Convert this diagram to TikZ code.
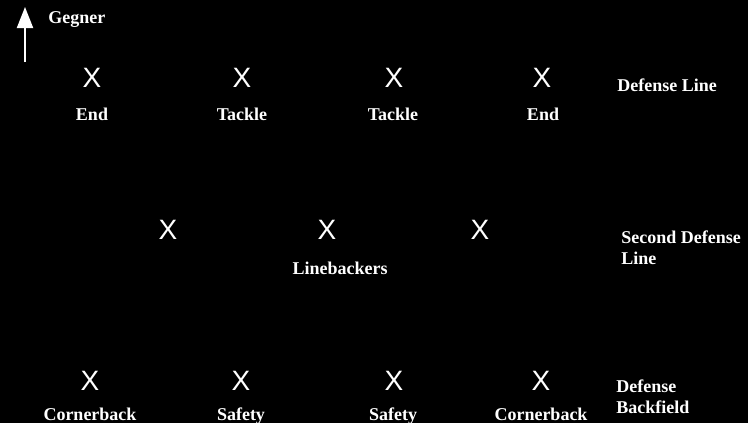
\documentclass[tikz,border=0pt]{standalone}
\usepackage{fontspec}
\setmainfont{Liberation Serif}
\setsansfont{Liberation Sans}
\usepackage{tikz}
\usetikzlibrary{arrows.meta}

\tikzset{
  player/.style={text=white, font=\sffamily\fontsize{14}{16}\selectfont, inner sep=0pt},
  role/.style={text=white, font=\bfseries\fontsize{9}{10.5}\selectfont, inner sep=0pt, anchor=base},
  rowlabel/.style={text=white, font=\bfseries\fontsize{9}{10.5}\selectfont, inner sep=0pt, align=left, anchor=west}
}

\begin{document}
\begin{tikzpicture}[x=0.5pt, y=-0.5pt]
\fill[black] (0,0) rectangle (748,423);
\useasboundingbox (0,0) rectangle (748,423);

% direction of play
\coordinate (dirlow) at (25,62);
\coordinate (dirhigh) at (25,7);
\draw[white, line width=1pt, -{Triangle[width=8pt,length=10.5pt]}] (dirlow) -- (dirhigh);
\node[role, anchor=west] (gegner) at (48,20) {Gegner};

% defense line
\node[player] (de1) at (92,78) {X};
\node[player] (dt1) at (242,78) {X};
\node[player] (dt2) at (394,78) {X};
\node[player] (de2) at (542,78) {X};
\node[role] (lde1) at (92,120) {End};
\node[role] (ldt1) at (242,120) {Tackle};
\node[role] (ldt2) at (393,120) {Tackle};
\node[role] (lde2) at (543,120) {End};
\node[rowlabel] (rowone) at (617,85) {Defense Line};

% second defense line
\node[player] (lb1) at (168,230) {X};
\node[player] (lb2) at (327,230) {X};
\node[player] (lb3) at (480,230) {X};
\node[role] (llb) at (340,274) {Linebackers};
\node[rowlabel] (rowtwo) at (621,248) {Second Defense\\Line};

% defense backfield
\node[player] (cb1) at (90,381) {X};
\node[player] (sf1) at (241,381) {X};
\node[player] (sf2) at (394,381) {X};
\node[player] (cb2) at (541,381) {X};
\node[role] (lcb1) at (90,420) {Cornerback};
\node[role] (lsf1) at (241,420) {Safety};
\node[role] (lsf2) at (393,420) {Safety};
\node[role] (lcb2) at (541,420) {Cornerback};
\node[rowlabel] (rowthree) at (616,397) {Defense\\Backfield};
\end{tikzpicture}
\end{document}
